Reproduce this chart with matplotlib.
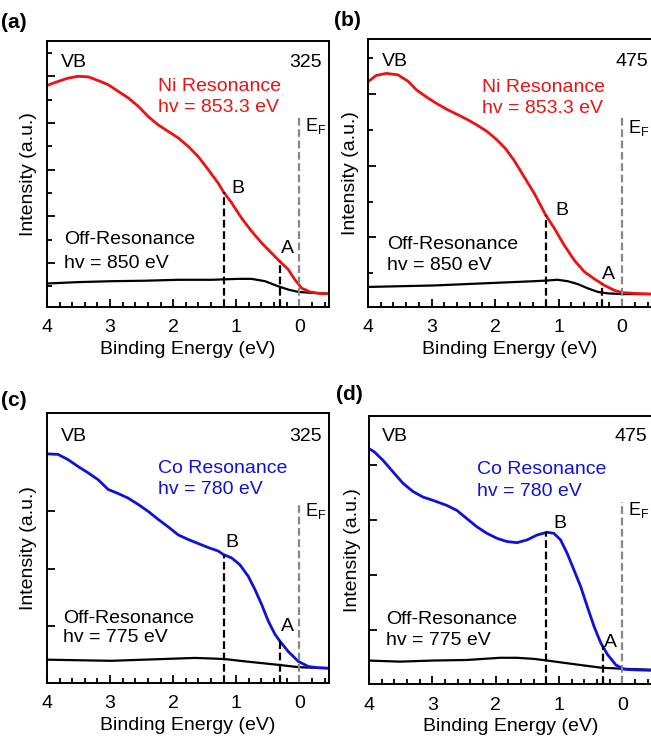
import numpy as np
import matplotlib
matplotlib.use("Agg")
import matplotlib.pyplot as plt
from matplotlib.ticker import MultipleLocator

plt.rcParams['font.family'] = ['Liberation Sans', 'DejaVu Sans']
plt.rcParams['mathtext.default'] = 'regular'

# (a) Ni resonance, 325
e_ni_325 = [4.01, 3.825, 3.667, 3.508, 3.349, 3.19, 3.03, 2.873, 2.714, 2.555, 2.397, 2.238, 2.079, 1.92, 1.762,
            1.603, 1.444, 1.286, 1.206, 1.074, 0.915, 0.757, 0.598, 0.439, 0.307, 0.175, 0.069, -0.037, -0.169,
            -0.354, -0.5]
i_ni_325 = [4.80, 4.89, 4.96, 5.00, 4.99, 4.91, 4.82, 4.68, 4.54, 4.36, 4.14, 3.96, 3.82, 3.68, 3.50,
            3.28, 3.00, 2.71, 2.53, 2.29, 1.96, 1.68, 1.43, 1.21, 1.03, 0.86, 0.64, 0.46, 0.38,
            0.34, 0.34]
e_off_a = [4.01, 3.508, 2.979, 2.45, 1.92, 1.391, 0.968, 0.757, 0.545, 0.333, 0.175, 0.016, -0.195, -0.5]
i_off_a = [0.56, 0.59, 0.61, 0.62, 0.64, 0.64, 0.66, 0.66, 0.61, 0.50, 0.43, 0.38, 0.36, 0.34]

# (b) Ni resonance, 475
e_ni_475 = [3.99, 3.873, 3.714, 3.529, 3.37, 3.238, 3.079, 2.921, 2.762, 2.603, 2.444, 2.286, 2.127, 1.968, 1.836,
            1.704, 1.545, 1.386, 1.201, 1.069, 0.91, 0.751, 0.593, 0.434, 0.275, 0.116, -0.016, -0.201, -0.5]
i_ni_475 = [3.18, 3.26, 3.29, 3.27, 3.18, 3.06, 2.96, 2.87, 2.79, 2.72, 2.65, 2.57, 2.48, 2.36, 2.24,
            2.08, 1.85, 1.62, 1.31, 1.13, 0.89, 0.68, 0.52, 0.42, 0.33, 0.26, 0.23, 0.22, 0.21]
e_off_b = [3.99, 3.503, 2.974, 2.444, 1.915, 1.386, 1.175, 1.016, 0.857, 0.698, 0.54, 0.381, 0.222, -0.016, -0.5]
i_off_b = [0.31, 0.32, 0.33, 0.35, 0.37, 0.39, 0.40, 0.41, 0.39, 0.35, 0.29, 0.24, 0.22, 0.21, 0.21]

# (c) Co resonance, 325
e_co_325 = [4.01, 3.825, 3.667, 3.508, 3.349, 3.19, 3.03, 2.873, 2.714, 2.555, 2.397, 2.238, 2.079, 1.92, 1.762,
            1.603, 1.444, 1.286, 1.206, 1.074, 0.942, 0.81, 0.704, 0.598, 0.492, 0.386, 0.307, 0.175, 0.016,
            -0.143, -0.301, -0.5]
i_co_325 = [4.00, 3.99, 3.90, 3.78, 3.67, 3.55, 3.38, 3.31, 3.23, 3.12, 3.00, 2.86, 2.73, 2.59, 2.51,
            2.44, 2.37, 2.31, 2.25, 2.19, 2.07, 1.87, 1.64, 1.38, 1.09, 0.86, 0.74, 0.56, 0.39,
            0.30, 0.28, 0.27]
e_off_c = [4.01, 3.508, 2.979, 2.45, 1.92, 1.656, 1.391, 1.18, 0.862, 0.598, 0.333, 0.016, -0.195, -0.5]
i_off_c = [0.42, 0.41, 0.40, 0.42, 0.44, 0.45, 0.44, 0.43, 0.39, 0.36, 0.33, 0.29, 0.28, 0.27]

# (d) Co resonance, 475
e_co_475 = [4.017, 3.911, 3.778, 3.62, 3.461, 3.302, 3.144, 2.985, 2.773, 2.614, 2.456, 2.297, 2.138, 1.98, 1.821,
            1.662, 1.503, 1.344, 1.186, 1.08, 0.974, 0.868, 0.762, 0.657, 0.551, 0.445, 0.339, 0.233, 0.101,
            -0.032, -0.19, -0.5]
i_co_475 = [4.32, 4.24, 4.09, 3.88, 3.67, 3.52, 3.42, 3.36, 3.27, 3.18, 3.03, 2.88, 2.76, 2.67, 2.61,
            2.59, 2.64, 2.73, 2.78, 2.76, 2.64, 2.39, 2.09, 1.79, 1.42, 1.06, 0.76, 0.55, 0.36,
            0.28, 0.27, 0.26]
e_off_d = [4.017, 3.514, 2.985, 2.456, 1.927, 1.662, 1.397, 1.186, 0.868, 0.604, 0.339, -0.005, -0.5]
i_off_d = [0.44, 0.42, 0.44, 0.45, 0.49, 0.49, 0.47, 0.44, 0.39, 0.35, 0.31, 0.29, 0.27]

peak_B = 1.2
peak_A = 0.31

W, H = 651, 743
fig = plt.figure(figsize=(W / 100, H / 100), dpi=100)


def px_axes(left, top, right, bottom):
    return fig.add_axes([left / W, 1 - bottom / H, (right - left) / W, (bottom - top) / H])


panels = [
    dict(box=(47, 41, 329, 307), tag='(a)', tagpos=(1, 22), e=e_ni_325, i=i_ni_325, eo=e_off_a, io=i_off_a,
         col='#ee1111', ylim=(0.057, 5.757), ymin=0.5, ef=4.14, num='325',
         res=('Ni Resonance', 'hv = 853.3 eV'), off='hv = 850 eV',
         txt=dict(vb=(0.051, 0.92), num=(0.976, 0.92), res=(0.395, 0.83, 0.75), ef=(0.915, 0.68),
                  b=(0.655, 0.447), a=(0.83, 0.22), off=(0.06, 0.253, 0.165)), ylx=-0.037),
    dict(box=(368, 39, 652, 307), tag='(b)', tagpos=(334, 20), e=e_ni_475, i=i_ni_475, eo=e_off_b, io=i_off_b,
         col='#ee1111', ylim=(0.03, 3.77), ymin=0.5, ef=2.69, num='475',
         res=('Ni Resonance', 'hv = 853.3 eV'), off='hv = 850 eV',
         txt=dict(vb=(0.048, 0.917), num=(0.987, 0.917), res=(0.40, 0.82, 0.74), ef=(0.915, 0.667),
                  b=(0.66, 0.36), a=(0.823, 0.122), off=(0.066, 0.234, 0.156)), ylx=-0.03),
    dict(box=(47, 413, 329, 683), tag='(c)', tagpos=(1, 400), e=e_co_325, i=i_co_325, eo=e_off_c, io=i_off_c,
         col='#1010dd', ylim=(0.014, 4.71), ymin=None, ef=3.14, num='325',
         res=('Co Resonance', 'hv = 780 eV'), off='hv = 775 eV',
         txt=dict(vb=(0.049, 0.914), num=(0.976, 0.914), res=(0.395, 0.794, 0.716), ef=(0.915, 0.636),
                  b=(0.634, 0.519), a=(0.829, 0.21), off=(0.057, 0.24, 0.167)), ylx=-0.037),
    dict(box=(369, 416, 652, 684), tag='(d)', tagpos=(336, 394), e=e_co_475, i=i_co_475, eo=e_off_d, io=i_off_d,
         col='#1010dd', ylim=(0.012, 4.90), ymin=None, ef=3.33, num='475',
         res=('Co Resonance', 'hv = 780 eV'), off='hv = 775 eV',
         txt=dict(vb=(0.045, 0.922), num=(0.984, 0.922), res=(0.38, 0.80, 0.72), ef=(0.915, 0.649),
                  b=(0.65, 0.60), a=(0.83, 0.153), off=(0.061, 0.242, 0.163)), ylx=-0.03),
]

fs = 14
dash = (0, (3.5, 1.6))
for p in panels:
    ax = px_axes(*p['box'])
    ax.plot(p['eo'], p['io'], color='black', lw=1.6)
    ax.plot(p['e'], p['i'], color=p['col'], lw=2.0)
    ax.set_xlim(4, -0.47)
    ax.set_ylim(*p['ylim'])

    # marker lines B and A up to the resonance curve, Fermi level in grey
    y0 = p['ylim'][0]
    hb = np.interp(peak_B, p['e'][::-1], p['i'][::-1])
    ha = np.interp(peak_A, p['e'][::-1], p['i'][::-1])
    ax.plot([peak_B, peak_B], [y0, hb], color='black', ls=dash, lw=1.6)
    ax.plot([peak_A, peak_A], [y0, ha], color='black', ls=dash, lw=1.6)
    ax.plot([0, 0], [y0, p['ef']], color='#888888', ls=dash, lw=1.6)

    t = p['txt']
    kw = dict(transform=ax.transAxes, fontsize=fs, va='center')
    ax.text(*t['vb'], 'VB', ha='left', **kw)
    ax.text(*t['num'], p['num'], ha='right', **kw)
    ax.text(t['res'][0], t['res'][1], p['res'][0], color=p['col'], **kw)
    ax.text(t['res'][0], t['res'][2], p['res'][1], color=p['col'], **kw)
    ax.text(*t['ef'], r'E$_F$', transform=ax.transAxes, fontsize=13, va='center')
    ax.text(*t['b'], 'B', **kw)
    ax.text(*t['a'], 'A', **kw)
    ax.text(t['off'][0], t['off'][1], 'Off-Resonance', **kw)
    ax.text(t['off'][0], t['off'][2], p['off'], **kw)

    ax.set_xticks([4, 3, 2, 1, 0], ['4', '3', '2', '1', '0'])
    ax.xaxis.set_minor_locator(MultipleLocator(0.2))
    ax.yaxis.set_major_locator(MultipleLocator(1.0))
    if p['ymin']:
        ax.yaxis.set_minor_locator(MultipleLocator(p['ymin']))
    ax.tick_params(which='both', direction='in', top=False, right=False, width=1.3, labelsize=fs, pad=9)
    ax.tick_params(which='major', length=6)
    ax.tick_params(which='minor', length=3.5)
    ax.tick_params(axis='y', labelleft=False)
    for s in ax.spines.values():
        s.set_linewidth(1.4)
    ax.set_xlabel('Binding Energy (eV)', fontsize=fs, labelpad=3)
    ax.set_ylabel('Intensity (a.u.)', fontsize=fs)
    ax.yaxis.set_label_coords(p['ylx'], 0.5)

    tx, ty = p['tagpos']
    fig.text(tx / W, 1 - ty / H, p['tag'], fontsize=15, fontweight='bold', va='center', ha='left')

fig.savefig('out.png', dpi=100)
